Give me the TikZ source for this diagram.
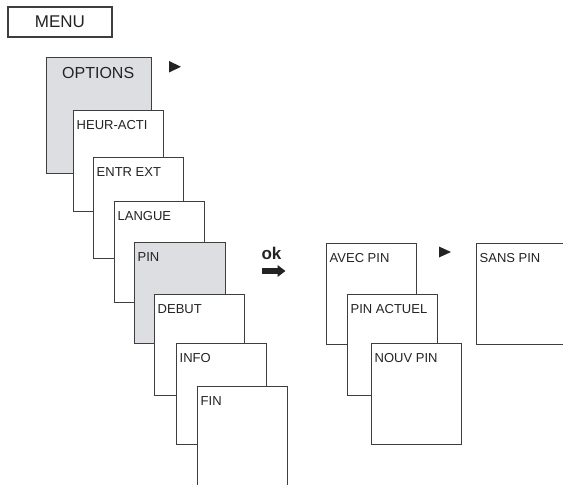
\documentclass[tikz,border=0pt]{standalone}
\usepackage{fontspec}
\setmainfont{Liberation Sans}
\usepackage{xcolor}
\usepackage{tikz}
\usetikzlibrary{arrows.meta,positioning}
\definecolor{panelgray}{RGB}{221,222,225}
\definecolor{framegray}{RGB}{62,62,62}
\definecolor{inkgray}{RGB}{35,35,35}

\begin{document}
\begin{tikzpicture}[x=1pt,y=-1pt,
  panel/.style={rectangle,draw=framegray,line width=1.1pt,fill=white,anchor=north west,
    minimum width=90pt,minimum height=101pt,inner sep=0pt},
  menubox/.style={panel,label={[boxtext]north west:#1}},
  boxtext/.style={anchor=north west,inner xsep=3.5pt,inner ysep=10pt,
    font=\fontsize{13}{15}\selectfont,text=inkgray}]
\useasboundingbox (0,0) rectangle (563,485);

% top
\node[draw=framegray,line width=1.1pt,minimum width=104pt,minimum height=30pt,
  font=\fontsize{17}{20}\selectfont,text=inkgray] (menu) at (60,22) {MENU};

% left column
\node[panel,fill=panelgray,minimum width=105pt,minimum height=116pt] (options) at (46,57) {};
\node[boxtext,inner xsep=16pt,font=\fontsize{16}{19}\selectfont] (optionstext) at (options.north west) {OPTIONS};
\fill[inkgray] (169,61) -- (169,72.5) -- (181,66.75) -- cycle;
\node[menubox=HEUR-ACTI] (heuracti) at (73,110) {};
\node[menubox=ENTR EXT] (entrext) at (93,157) {};
\node[menubox=LANGUE] (langue) at (114,201) {};
\node[menubox=PIN,fill=panelgray,minimum width=91pt] (pin) at (134,242) {};
\node[menubox=DEBUT] (debut) at (154,294) {};
\node[menubox=INFO] (info) at (176,343) {};
\node[menubox=FIN] (fin) at (197,386) {};

% ok
\node[font=\bfseries\fontsize{17}{20}\selectfont,text=inkgray,anchor=base,inner sep=0pt] (ok) at (271.5,259.5) {ok};
\coordinate (oka) at (262,271);
\coordinate (okb) at (285.5,271);
\draw[inkgray,line width=6pt,-{Triangle[length=8pt,width=11.5pt]}] (oka) -- (okb);

% right column
\node[menubox=AVEC PIN] (avecpin) at (326,243) {};
\fill[inkgray] (439,246.5) -- (439,257.5) -- (451,252) -- cycle;
\node[menubox=PIN ACTUEL] (pinactuel) at (347,294) {};
\node[menubox=NOUV PIN] (nouvpin) at (371,343) {};
\node[menubox=SANS PIN] (sanspin) at (476,243) {};
\end{tikzpicture}
\end{document}
